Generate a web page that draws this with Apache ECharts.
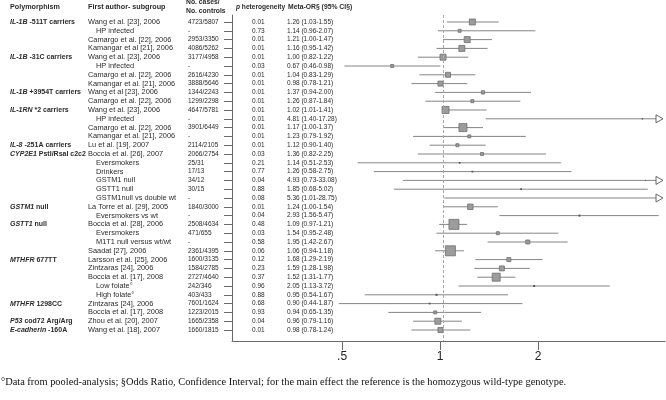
<!DOCTYPE html>
<html><head><meta charset="utf-8">
<script src="https://cdn.jsdelivr.net/npm/echarts@6/dist/echarts.min.js"></script>
<style>html,body{margin:0;padding:0;background:#fff}#c{width:666px;height:400px}</style>
</head><body><div id="c"></div>
<script>
// ---- data ----
const polyGene = ['IL-1B','','','','IL-1B','','','','IL-1B','','IL-1RN','','','','IL-8','CYP2E1','','','','','','GSTM1','','GSTT1','','','','MTHFR','','','','','MTHFR','','P53','E-cadherin'];
const polyRest = [' -511T carriers','','','',' -31C carriers','','','',' +3954T carriers','',' *2 carriers','','','',' -251A carriers',' PstI/RsaI c2c2','','','','','',' null','',' null','','','',' 677TT','','','','',' 1298CC','',' cod72 Arg/Arg',' -160A'];
const authors = ['Wang et al. [23], 2006','HP infected','Camargo et al. [22], 2006','Kamangar et al [21], 2006',
 'Wang et al. [23], 2006','HP infected','Camargo et al. [22], 2006','Kamangar et al. [21], 2006',
 'Wang et al [23], 2006','Camargo et al. [22], 2006',
 'Wang et al. [23], 2006','HP infected','Camargo et al. [22], 2006','Kamangar et al. [21], 2006',
 'Lu et al. [19], 2007',
 'Boccia et al. [26], 2007','Eversmokers','Drinkers','GSTM1 null','GSTT1 null','GSTM1null vs double wt',
 'La Torre et al. [29], 2005','Eversmokers vs wt',
 'Boccia et al. [28], 2006','Eversmokers','M1T1 null versus wt/wt','Saadat [27], 2006',
 'Larsson et al. [25], 2006','Zintzaras [24], 2006','Boccia et al. [17], 2008','Low folate°','High folate°',
 'Zintzaras [24], 2006','Boccia et al. [17], 2008',
 'Zhou et al. [20], 2007','Wang et al. [18], 2007'];
const subgroup = [0,1,0,0, 0,1,0,0, 0,0, 0,1,0,0, 0, 0,1,1,1,1,1, 0,1, 0,1,1,0, 0,0,0,1,1, 0,0, 0,0];
const cases = ['4723/5807','-','2953/3350','4086/5262','3177/4958','-','2616/4230','3888/5646','1344/2243','1299/2298',
 '4647/5781','-','3901/6449','-','2114/2105','2066/2754','25/31','17/13','34/12','30/15','-','1840/3000','-',
 '2508/4634','471/655','-','2361/4395','1600/3135','1584/2785','2727/4640','242/346','403/433','7601/1624',
 '1223/2015','1665/2358','1660/1815'];
const pHet = ['0.01','0.73','0.01','0.01','0.01','0.03','0.01','0.01','0.01','0.01','0.01','0.01','0.01','0.01','0.01',
 '0.03','0.21','0.77','0.04','0.88','0.08','0.01','0.04','0.48','0.03','0.58','0.06','0.12','0.23','0.37','0.96',
 '0.88','0.68','0.93','0.04','0.01'];
const orVal = [1.26,1.14,1.21,1.16,1.00,0.67,1.04,0.98,1.37,1.26,1.02,4.81,1.17,1.23,1.12,1.36,1.14,1.26,4.93,1.85,5.36,
 1.24,2.93,1.09,1.54,1.95,1.06,1.68,1.59,1.52,2.05,0.95,0.90,0.94,0.96,0.98];
const ciLo = [1.03,0.96,1.00,0.95,0.82,0.46,0.83,0.78,0.94,0.87,1.01,1.40,1.00,0.79,0.90,0.82,0.51,0.58,0.73,0.68,1.01,
 1.00,1.56,0.97,0.95,1.42,0.94,1.29,1.28,1.31,1.13,0.54,0.44,0.65,0.79,0.78];
const ciHi = [1.55,2.07,1.47,1.42,1.22,0.98,1.29,1.21,2.00,1.84,1.41,17.28,1.37,1.92,1.40,2.25,2.53,2.75,33.08,5.02,28.75,
 1.54,5.47,1.21,2.48,2.67,1.18,2.19,1.98,1.77,3.72,1.67,1.87,1.35,1.16,1.24];
const weight = [36,9,36,36,36,9,25,25,11,9,49,2,64,9,9,9,3,3,1,3,1,30,4,100,9,16,100,16,25,64,4,4,3,9,36,25];
const xTicks = [0.5, 1, 2];

// ---- chart ----
const idx = orVal.map((_, i) => i);
const FF = '"Liberation Sans", Arial, sans-serif';
const FS_T = 7.4;   // text columns
const FS_N = 6.5;   // number columns
const FS_P = 7.0;   // polymorphism column
const TXT = '#2b2b2b';
const AX = '#6a6a6a';
const Y_MIN = -0.795, Y_MAX = 36.25;

function colAxis(formatter, margin, fs, rich) {
  return {
    type: 'value', inverse: true, min: Y_MIN, max: Y_MAX, position: 'left',
    axisLine: { show: false }, axisTick: { show: false }, splitLine: { show: false },
    axisLabel: { customValues: idx, formatter, margin, align: 'left', fontSize: fs,
      fontFamily: FF, color: TXT, rich: rich || {} }
  };
}

const chart = echarts.init(document.getElementById('c'), null, { renderer: 'canvas' });
chart.setOption({
  animation: false,
  backgroundColor: '#fff',
  grid: { left: 232, right: 1, top: 15, bottom: 59, containLabel: false },
  xAxis: [
    { // data axis (marks)
      type: 'log', logBase: 2, min: 0.1897, max: 5.747, position: 'bottom',
      axisLine: { onZero: false, lineStyle: { color: AX, width: 1 } },
      axisTick: { show: false }, axisLabel: { show: false }, splitLine: { show: false }
    },
    { // tick/label axis as printed in the reference
      type: 'log', logBase: 2, min: 0.2294, max: 4.91, position: 'bottom',
      axisLine: { show: false, onZero: false },
      axisTick: { customValues: xTicks, length: 9, lineStyle: { color: AX } },
      axisLabel: { customValues: xTicks, margin: 10, fontSize: 12, fontFamily: FF, color: '#222',
        formatter: v => (v < 1 ? String(v).replace(/^0/, '') : String(v)) },
      splitLine: { show: false }
    }
  ],
  yAxis: [
    { // main axis with ticks: cases column
      type: 'value', inverse: true, min: Y_MIN, max: Y_MAX, position: 'left',
      axisLine: { show: true, onZero: false, lineStyle: { color: AX, width: 1 } },
      axisTick: { show: true, customValues: idx, length: 8, lineStyle: { color: AX } },
      splitLine: { show: false },
      axisLabel: { customValues: idx, formatter: v => cases[v], margin: 44, align: 'left',
        fontSize: FS_N, fontFamily: FF, color: TXT }
    },
    colAxis(v => polyGene[v] ? '{g|' + polyGene[v] + '}{r|' + polyRest[v] + '}' : '', 222, FS_P,
      { g: { fontWeight: 'bold', fontStyle: 'italic', fontSize: FS_P, fontFamily: FF, color: TXT },
        r: { fontWeight: 'bold', fontSize: FS_P, fontFamily: FF, color: TXT } }),
    colAxis(v => subgroup[v] ? '{s|' + authors[v] + '}' : authors[v], 144, FS_T,
      { s: { padding: [0, 0, 0, 8], fontSize: FS_T, fontFamily: FF, color: TXT } }),
    colAxis(v => pHet[v], -20, FS_N),
    colAxis(v => orVal[v].toFixed(2) + ' (' + ciLo[v].toFixed(2) + '-' + ciHi[v].toFixed(2) + ')', -55, FS_N)
  ],
  series: [
    {
      type: 'custom', xAxisIndex: 0, yAxisIndex: 0, clip: false,
      data: orVal.map((v, i) => [v, i, ciLo[i], ciHi[i], weight[i]]),
      encode: { x: [0, 2], y: 1 },
      renderItem(params, api) {
        const cs = params.coordSys;
        const right = cs.x + cs.width;
        const row = api.value(1);
        const p = api.coord([api.value(0), row]);
        const y = p[1];
        const xl = api.coord([api.value(2), row])[0];
        const xh = api.coord([api.value(3), row])[0];
        const over = xh > right - 1;
        const baseX = right - 9;
        const children = [{
          type: 'line', shape: { x1: xl, y1: y, x2: over ? baseX : xh, y2: y },
          style: { stroke: '#858585', lineWidth: 1 }
        }];
        const s = Math.sqrt(api.value(4));
        if (!(over && p[0] > baseX - 1)) {
          children.push({ type: 'rect', shape: { x: p[0] - s / 2, y: y - s / 2, width: s, height: s },
            style: { fill: s > 2 ? '#9c9c9c' : '#555', stroke: s > 2 ? '#6e6e6e' : null, lineWidth: 0.8 } });
        }
        if (over) {
          children.push({ type: 'polygon', shape: { points: [[baseX, y - 4], [right - 2, y], [baseX, y + 4]] },
            style: { fill: '#fff', stroke: '#666', lineWidth: 1 } });
        }
        return { type: 'group', children };
      },
      markLine: {
        silent: true, symbol: 'none', animation: false,
        label: { show: false },
        lineStyle: { type: [3, 2], color: '#a8a8a8', width: 1 },
        data: [{ xAxis: 1 }]
      }
    }
  ],
  graphic: [
    { type: 'text', x: 10, y: 7, style: { text: 'Polymorphism', fontSize: 7.2, fontWeight: 'bold', fontFamily: FF, fill: TXT, verticalAlign: 'middle' } },
    { type: 'text', x: 88, y: 7, style: { text: 'First author- subgroup', fontSize: 7.2, fontWeight: 'bold', fontFamily: FF, fill: TXT, verticalAlign: 'middle' } },
    { type: 'text', x: 186, y: 2.5, style: { text: 'No. cases/', fontSize: 6.8, fontWeight: 'bold', fontFamily: FF, fill: TXT, verticalAlign: 'middle' } },
    { type: 'text', x: 186, y: 11, style: { text: 'No. controls', fontSize: 6.8, fontWeight: 'bold', fontFamily: FF, fill: TXT, verticalAlign: 'middle' } },
    { type: 'text', x: 236, y: 7, style: { text: '{i|p} heterogeneity', fontSize: 6.6, fontWeight: 'bold', fontFamily: FF, fill: TXT, verticalAlign: 'middle',
        rich: { i: { fontStyle: 'italic', fontWeight: 'bold', fontSize: 6.6, fontFamily: FF, fill: TXT } } } },
    { type: 'text', x: 288, y: 7, style: { text: 'Meta-OR§ (95% CI§)', fontSize: 6.8, fontWeight: 'bold', fontFamily: FF, fill: TXT, verticalAlign: 'middle' } },
    { type: 'text', x: 1, y: 382, style: { text: '°Data from pooled-analysis; §Odds Ratio, Confidence Interval; for the main effect the reference is the homozygous wild-type genotype.',
        fontSize: 10.4, fontFamily: '"Liberation Serif", "Times New Roman", serif', fill: '#111', verticalAlign: 'middle' } }
  ]
});
</script>
</body></html>
